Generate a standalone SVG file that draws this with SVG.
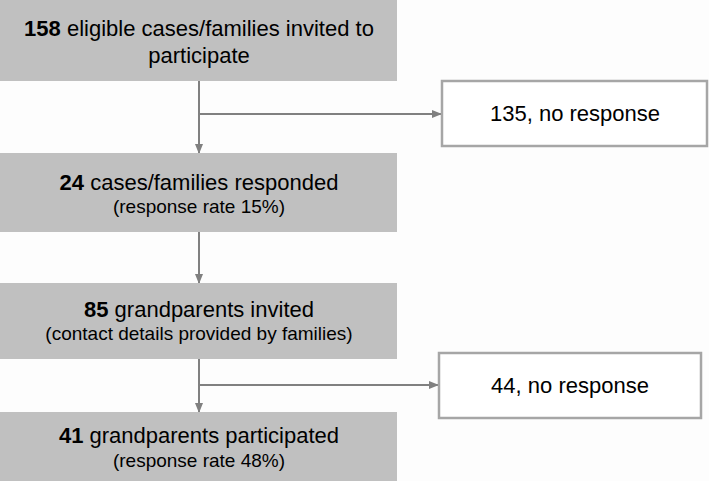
<svg xmlns="http://www.w3.org/2000/svg" width="709" height="481" viewBox="0 0 709 481">
<style>
.box{fill:#c0c0c0;stroke:none}
.wbox{fill:#ffffff;stroke:#a6a6a6;stroke-width:2.5}
.t{font-family:"Liberation Sans",Arial,sans-serif;fill:#000;text-anchor:middle}
.big{font-size:22px}
.small{font-size:19px}
.b{font-weight:bold}
.ln{stroke:#808080;stroke-width:2;fill:none}
</style>
<defs>
<marker id="ah" markerWidth="10" markerHeight="10" refX="9" refY="5" orient="auto" markerUnits="userSpaceOnUse">
<path d="M0,1 L10,5 L0,9 Z" fill="#808080"/>
</marker>
</defs>
<rect width="709" height="481" fill="#fdfdfd"/>
<g id="connectors">
<line class="ln" x1="199" y1="81" x2="199" y2="153" marker-end="url(#ah)"/>
<line class="ln" x1="199" y1="114" x2="441" y2="114" marker-end="url(#ah)"/>
<line class="ln" x1="199" y1="231" x2="199" y2="283" marker-end="url(#ah)"/>
<line class="ln" x1="199" y1="359" x2="199" y2="412" marker-end="url(#ah)"/>
<line class="ln" x1="199" y1="385" x2="438" y2="385" marker-end="url(#ah)"/>
</g>
<g id="n1">
<rect class="box" x="0" y="0" width="397" height="81"/>
<text class="t big" x="199" y="36"><tspan class="b">158</tspan> eligible cases/families invited to</text>
<text class="t big" x="199" y="63">participate</text>
</g>
<g id="n2">
<rect class="wbox" x="442" y="81" width="265" height="65"/>
<text class="t big" x="575" y="121">135, no response</text>
</g>
<g id="n3">
<rect class="box" x="0" y="153" width="397" height="79"/>
<text class="t big" x="199" y="190"><tspan class="b">24</tspan> cases/families responded</text>
<text class="t small" x="199" y="213">(response rate 15%)</text>
</g>
<g id="n4">
<rect class="box" x="0" y="283" width="397" height="76"/>
<text class="t big" x="199" y="317"><tspan class="b">85</tspan> grandparents invited</text>
<text class="t small" x="199" y="340">(contact details provided by families)</text>
</g>
<g id="n5">
<rect class="wbox" x="439" y="353" width="262" height="65"/>
<text class="t big" x="570" y="393">44, no response</text>
</g>
<g id="n6">
<rect class="box" x="0" y="412" width="397" height="69"/>
<text class="t big" x="199" y="443"><tspan class="b">41</tspan> grandparents participated</text>
<text class="t small" x="199" y="467">(response rate 48%)</text>
</g>
</svg>
